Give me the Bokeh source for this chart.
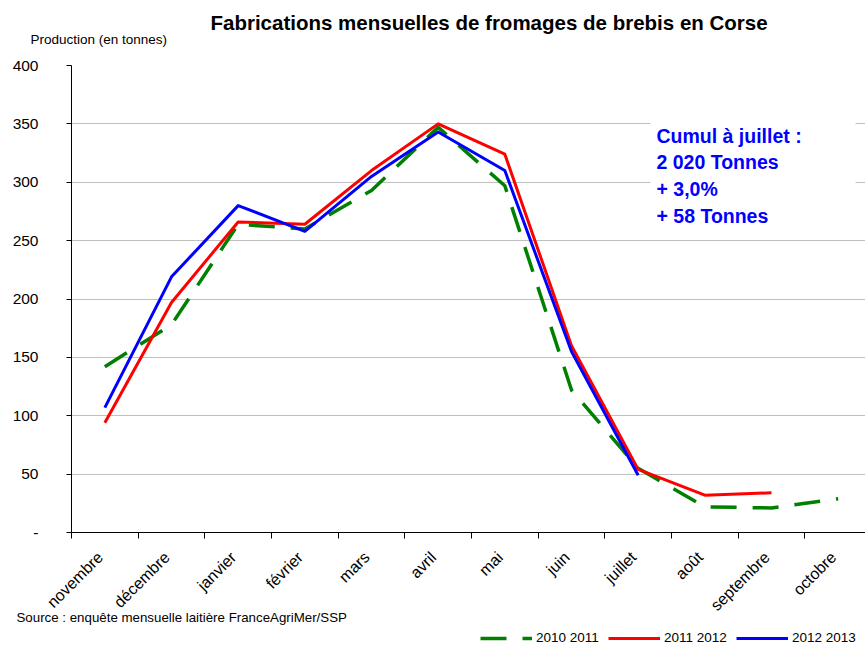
from math import pi
from bokeh.plotting import figure
from bokeh.layouts import column
from bokeh.models import (Range1d, FixedTicker, Label, Legend, LegendItem,
                          BoxAnnotation, ColumnDataSource, Title)
from bokeh.embed import file_html
from bokeh.resources import INLINE

# ---- data ----
months = ["novembre", "décembre", "janvier", "février", "mars", "avril",
          "mai", "juin", "juillet", "août", "septembre", "octobre"]
s_2010_2011 = [142, 178, 264, 260, 293, 347, 297, 122, 55, 22, 21, 29]
s_2011_2012 = [94, 197, 266, 264, 310, 350, 324, 160, 54, 32, 34]
s_2012_2013 = [107, 219, 280, 258, 305, 343, 310, 155, 49]
y_ticks = [0, 50, 100, 150, 200, 250, 300, 350, 400]
series_labels = ["2010 2011", "2011 2012", "2012 2013"]
series_colors = ["#008000", "#ff0000", "#0000ff"]

FONT = "Liberation Sans"

pos = [i + 0.5 for i in range(len(months))]          # category centres
label_pos = [i + 0.43 for i in range(len(months))]   # label anchors

p = figure(width=865, height=625, output_backend="svg", toolbar_location=None,
           x_range=Range1d(0, 11.91), y_range=Range1d(0, 400),
           min_border_left=71, min_border_right=0, min_border_top=65,
           min_border_bottom=93)
p.outline_line_color = None
p.background_fill_color = "white"
p.border_fill_color = "white"

# grid
p.xgrid.grid_line_color = None
p.ygrid.grid_line_color = "#c0c0c0"
p.ygrid.grid_line_width = 1

# y axis
p.yaxis.ticker = FixedTicker(ticks=y_ticks)
p.yaxis.major_label_overrides = {0: "-"}
p.yaxis.axis_line_color = "black"
p.yaxis.major_tick_line_color = "black"
p.yaxis.major_tick_out = 5
p.yaxis.major_tick_in = 0
p.yaxis.minor_tick_line_color = None
p.yaxis.major_label_standoff = 28
p.yaxis.major_label_text_font = FONT
p.yaxis.major_label_text_font_size = "15.5px"
p.yaxis.major_label_text_color = "black"

# x axis
p.xaxis.ticker = FixedTicker(ticks=label_pos,
                             minor_ticks=list(range(len(months) + 1)))
p.xaxis.major_label_overrides = {label_pos[i]: m for i, m in enumerate(months)}
p.xaxis.axis_line_color = "black"
p.xaxis.major_tick_line_color = None
p.xaxis.major_tick_out = 0
p.xaxis.major_tick_in = 0
p.xaxis.minor_tick_line_color = "black"
p.xaxis.minor_tick_out = 6
p.xaxis.minor_tick_in = 0
p.xaxis.major_label_orientation = pi / 4
p.xaxis.major_label_standoff = 16
p.xaxis.major_label_text_font = FONT
p.xaxis.major_label_text_font_size = "16px"
p.xaxis.major_label_text_color = "black"

# lines
src_g = ColumnDataSource(dict(x=pos[:len(s_2010_2011)], y=s_2010_2011))
src_r = ColumnDataSource(dict(x=pos[:len(s_2011_2012)], y=s_2011_2012))
src_b = ColumnDataSource(dict(x=pos[:len(s_2012_2013)], y=s_2012_2013))
p.line("x", "y", source=src_g, line_color=series_colors[0], line_width=3.5,
       line_dash="26 16", line_join="round")
p.line("x", "y", source=src_r, line_color=series_colors[1], line_width=3,
       line_join="round")
p.line("x", "y", source=src_b, line_color=series_colors[2], line_width=3,
       line_join="round")

# white box behind annotation
p.add_layout(BoxAnnotation(left=579, right=784, top=420, bottom=300,
                           left_units="screen", right_units="screen",
                           top_units="screen", bottom_units="screen",
                           fill_color="white", fill_alpha=1.0,
                           line_color=None, level="underlay"))

# annotation text
ann = ["Cumul à juillet :", "2 020 Tonnes", "+ 3,0%", "+ 58 Tonnes"]
for i, t in enumerate(ann):
    p.add_layout(Label(x=585, y=397 - 26.8 * i, x_units="screen", y_units="screen",
                       text=t, text_font=FONT, text_font_size="19.5px",
                       text_font_style="bold", text_color="#0000ff",
                       text_baseline="alphabetic", text_align="left"))

# caption (nearest the frame) and title (outer)
p.add_layout(Title(text="Production (en tonnes)", align="left", offset=-41,
                   standoff=38, text_font=FONT, text_font_size="13.5px",
                   text_font_style="normal", text_color="black"), "above")
p.add_layout(Title(text="Fabrications mensuelles de fromages de brebis en Corse",
                   align="left", offset=139, standoff=-47, text_font=FONT,
                   text_font_size="20.5px", text_font_style="bold",
                   text_color="black"), "above")

# source
p.add_layout(Title(text="Source : enquête mensuelle laitière FranceAgriMer/SSP",
                   align="left", vertical_align="top", offset=-55, standoff=-26,
                   text_font=FONT, text_font_size="13.3px",
                   text_font_style="normal", text_color="black"), "below")

# legend strip
q = figure(width=865, height=20, output_backend="svg", toolbar_location=None,
           x_range=Range1d(0, 1), y_range=Range1d(0, 1),
           x_axis_type=None, y_axis_type=None,
           min_border_left=0, min_border_right=0, min_border_top=0,
           min_border_bottom=0)
q.outline_line_color = None
q.xgrid.grid_line_color = None
q.ygrid.grid_line_color = None
proxies = []
for i, c in enumerate(series_colors):
    kw = dict(line_dash="26 16", line_width=3.5) if i == 0 else dict(line_width=3)
    proxies.append(q.line(x=[float("nan")], y=[float("nan")], line_color=c, **kw))
legend = Legend(items=[LegendItem(label=series_labels[i], renderers=[proxies[i]])
                       for i in range(3)],
                location=(409, 0), orientation="horizontal",
                glyph_width=52, glyph_height=14, label_height=14,
                label_width=70, label_standoff=4, spacing=2,
                padding=0, margin=0,
                border_line_color=None, background_fill_alpha=0,
                label_text_font=FONT, label_text_font_size="13.5px",
                label_text_color="black")
q.add_layout(legend, "center")

layout = column(p, q, spacing=0)
open("out.html", "w").write(file_html(layout, INLINE))
